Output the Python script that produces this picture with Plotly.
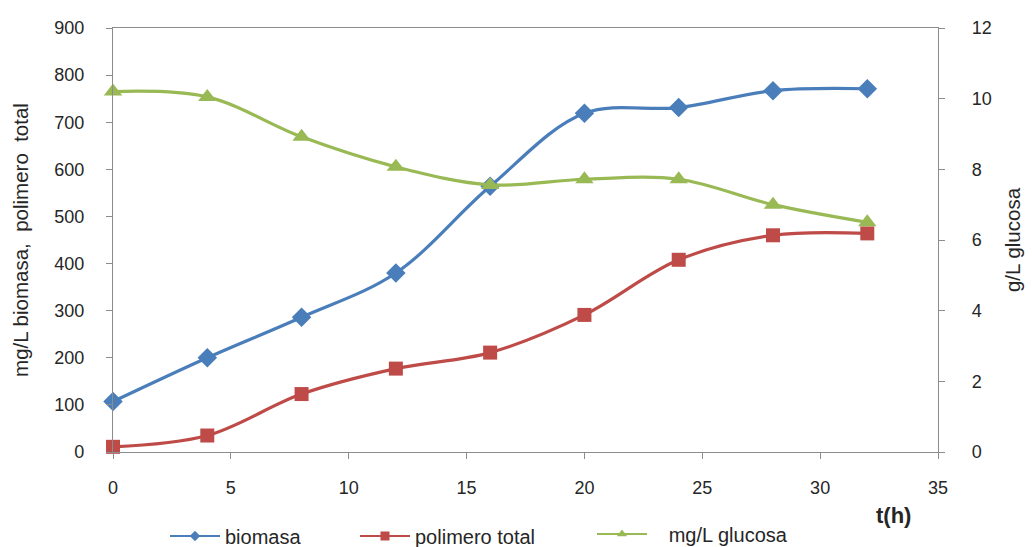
import plotly.graph_objects as go

# Fermentation time course
t_h = [0, 4, 8, 12, 16, 20, 24, 28, 32]
biomasa = [107, 200, 286, 380, 564, 719, 731, 767, 771]
polimero_total = [11, 35, 123, 177, 211, 291, 408, 460, 464]
glucosa = [10.2, 10.05, 8.92, 8.07, 7.56, 7.72, 7.72, 7.0, 6.5]

left_ticks = list(range(0, 901, 100))
right_ticks = list(range(0, 13, 2))
x_ticks = list(range(0, 36, 5))

FONT = "Liberation Sans, Arial, sans-serif"
TXT = "#262626"
AXC = "#8c8c8c"
BLUE, RED, GREEN = "#4A7EBB", "#BE4B48", "#98B954"

series = [
    ("biomasa", biomasa, BLUE, "diamond", 15, "y", "legend"),
    ("polimero total", polimero_total, RED, "square", 14, "y", "legend2"),
    ("\u00a0\u00a0\u00a0mg/L glucosa", glucosa, GREEN, "triangle-up", 16, "y2", "legend3"),
]

fig = go.Figure()
for name, vals, color, sym, size, yax, leg in series:
    # data curve
    fig.add_trace(go.Scatter(
        x=t_h, y=vals, mode="lines+markers", yaxis=yax, showlegend=False,
        line=dict(color=color, width=3.2, shape="spline", smoothing=1.0),
        marker=dict(symbol=sym, size=size, color=color),
        cliponaxis=False, hoverinfo="x+y",
    ))
    # legend entry with a thinner line and smaller marker
    fig.add_trace(go.Scatter(
        x=[None], y=[None], name=name, mode="lines+markers", yaxis=yax,
        line=dict(color=color, width=2.2),
        marker=dict(symbol=sym, size=9 if sym != "diamond" else 8, color=color),
        legend=leg, showlegend=True,
    ))

legend_common = dict(
    orientation="h", xref="container", yref="container",
    yanchor="middle", itemwidth=50,
    font=dict(family=FONT, size=20, color=TXT),
    bgcolor="rgba(0,0,0,0)",
)

fig.update_layout(
    width=1032, height=547,
    margin=dict(l=113, r=90, t=28, b=95),
    paper_bgcolor="white", plot_bgcolor="white",
    font=dict(family=FONT, size=18, color=TXT),
    showlegend=True,
    legend=dict(x=165 / 1032, y=1 - 536 / 547, **legend_common),
    legend2=dict(x=355 / 1032, y=1 - 536 / 547, **legend_common),
    legend3=dict(x=592 / 1032, y=1 - 534 / 547, **legend_common),
    xaxis=dict(
        range=[0, 35], tickvals=x_ticks, ticks="outside", ticklen=6,
        tickcolor=AXC, showline=True, linecolor=AXC, linewidth=1.3,
        mirror=True, showgrid=False, zeroline=False,
        ticklabelstandoff=13,
        tickfont=dict(family=FONT, size=18, color=TXT),
    ),
    yaxis=dict(
        range=[0, 900], tickvals=left_ticks, ticks="outside", ticklen=6,
        tickcolor=AXC, showline=True, linecolor=AXC, linewidth=1.3,
        showgrid=False, zeroline=False, ticklabelstandoff=18,
        tickfont=dict(family=FONT, size=18, color=TXT),
        title=dict(text="mg/L biomasa,  polimero  total", standoff=20,
                   font=dict(family=FONT, size=20.5, color=TXT)),
    ),
    yaxis2=dict(
        range=[0, 12], tickvals=right_ticks, ticks="outside", ticklen=6,
        tickcolor=AXC, showline=True, linecolor=AXC, linewidth=1.3,
        overlaying="y", side="right", showgrid=False, zeroline=False,
        ticklabelstandoff=23,
        tickfont=dict(family=FONT, size=18, color=TXT),
        title=dict(text="g/L glucosa", standoff=14,
                   font=dict(family=FONT, size=20.5, color=TXT)),
    ),
    annotations=[dict(
        text="<b>t(h)</b>", xref="paper", yref="paper",
        x=(897 - 113) / (942 - 113), y=-(515 - 452) / (452 - 28),
        showarrow=False, xanchor="center", yanchor="middle",
        font=dict(family=FONT, size=22, color=TXT),
    )],
)

fig.write_html("out.html")
